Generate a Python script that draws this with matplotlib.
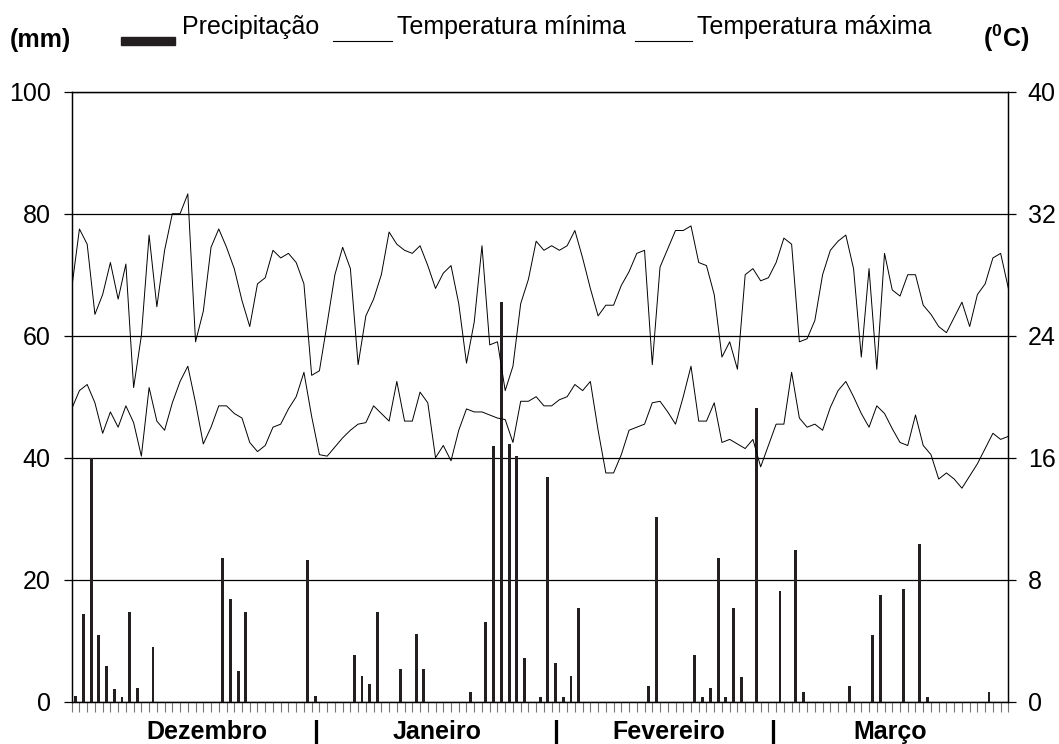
import matplotlib
matplotlib.use('Agg')
import matplotlib.pyplot as plt
import numpy as np
from matplotlib.patches import Rectangle
from matplotlib.lines import Line2D

# precipitacao diaria (mm), dez -> mar
chuva_dez = [1.0, 14.3, 40.0, 10.9, 5.8, 2.0, 0.7, 14.7, 2.3, 0, 9.0, 0, 0, 0, 0, 0,
             0, 0, 0, 23.5, 16.8, 5.1, 14.7, 0, 0, 0, 0, 0, 0, 0, 23.2]
chuva_jan = [1.0, 0, 0, 0, 0, 7.7, 4.2, 2.9, 14.7, 0, 0, 5.4, 0, 11.1, 5.4, 0,
             0, 0, 0, 0, 1.6, 0, 13.0, 41.9, 65.6, 42.2, 40.3, 7.1, 0, 0.7, 36.8]
chuva_fev = [6.4, 0.7, 4.2, 15.3, 0, 0, 0, 0, 0, 0, 0, 0, 2.6, 30.2, 0, 0,
             0, 0, 7.7, 0.7, 2.3, 23.5, 0.7, 15.3, 4.1, 0, 48.2, 0]
chuva_mar = [0, 18.2, 0, 24.8, 1.6, 0, 0, 0, 0, 0, 2.6, 0, 0, 11.0, 17.5, 0,
             0, 18.5, 0, 25.8, 0.7, 0, 0, 0, 0, 0, 0, 0, 1.6, 0, 0]

# temperaturas (graus C)
tmax = [27.1, 31.0, 30.0, 25.4, 26.7, 28.8, 26.4, 28.7, 20.6, 24.0, 30.6, 25.9,
        29.6, 32.0, 32.0, 33.3, 23.6, 25.6, 29.8, 31.0, 29.8, 28.4, 26.3, 24.6,
        27.4, 27.8, 29.6, 29.1, 29.4, 28.8, 27.4, 21.4, 21.7, 24.8, 28.0, 29.8,
        28.4, 22.1, 25.3, 26.4, 28.0, 30.8, 30.0, 29.6, 29.4, 29.9, 28.6, 27.1,
        28.1, 28.6, 26.1, 22.2, 24.9, 29.9, 23.4, 23.6, 20.4, 22.0, 26.1, 27.7,
        30.2, 29.6, 29.9, 29.6, 29.9, 30.9, 29.1, 27.1, 25.3, 26.0, 26.0, 27.3,
        28.2, 29.4, 29.6, 22.1, 28.5, 29.7, 30.9, 30.9, 31.2, 28.8, 28.6, 26.7,
        22.6, 23.6, 21.8, 28.0, 28.4, 27.6, 27.8, 28.8, 30.4, 30.0, 23.6, 23.8,
        25.0, 28.0, 29.6, 30.2, 30.6, 28.4, 22.6, 28.4, 21.8, 29.4, 27.0, 26.6,
        28.0, 28.0, 26.0, 25.4, 24.6, 24.2, 25.2, 26.2, 24.6, 26.7, 27.4, 29.1,
        29.4, 27.1]
tmin = [19.2, 20.4, 20.8, 19.6, 17.6, 19.0, 18.0, 19.4, 18.3, 16.1, 20.6, 18.4,
        17.8, 19.6, 21.0, 22.0, 19.6, 16.9, 18.0, 19.4, 19.4, 18.9, 18.6, 17.0,
        16.4, 16.8, 18.0, 18.2, 19.2, 20.0, 21.6, 18.7, 16.2, 16.1, 16.7, 17.3,
        17.8, 18.2, 18.3, 19.4, 18.9, 18.4, 21.0, 18.4, 18.4, 20.3, 19.6, 16.0,
        16.8, 15.8, 17.8, 19.2, 19.0, 19.0, 18.8, 18.6, 18.5, 17.0, 19.7, 19.7,
        20.0, 19.4, 19.4, 19.8, 20.0, 20.8, 20.4, 21.0, 17.8, 15.0, 15.0, 16.2,
        17.8, 18.0, 18.2, 19.6, 19.7, 19.0, 18.2, 20.0, 22.0, 18.4, 18.4, 19.6,
        17.0, 17.2, 16.9, 16.6, 17.2, 15.4, 16.8, 18.2, 18.2, 21.6, 18.6, 18.0,
        18.2, 17.8, 19.3, 20.4, 21.0, 20.0, 18.9, 18.0, 19.4, 18.9, 17.9, 17.0,
        16.8, 18.8, 16.8, 16.2, 14.6, 15.0, 14.6, 14.0, 14.8, 15.6, 16.6, 17.6,
        17.2, 17.4]

meses = ['Dezembro', '|', 'Janeiro', '|', 'Fevereiro', '|', 'Março']
meses_pos = [17, 31, 46.7, 62, 76.6, 90, 105.2]

chuva = chuva_dez + chuva_jan + chuva_fev + chuva_mar

plt.rcParams['font.family'] = ['Liberation Sans', 'DejaVu Sans']
plt.rcParams['mathtext.fontset'] = 'custom'
plt.rcParams['mathtext.rm'] = 'Liberation Sans'
plt.rcParams['mathtext.bf'] = 'Liberation Sans:bold'

fig = plt.figure(figsize=(10.59, 7.44), dpi=100)
ax = fig.add_axes([0.0677, 0.0569, 0.8845, 0.8198])

dias = np.arange(len(chuva))
ax.bar(dias, chuva, width=0.38, color='#231f20', zorder=3)
ax.set_xlim(-0.5, len(chuva) - 0.5)
ax.set_ylim(0, 100)
ax.set_yticks(range(0, 101, 20))
ax.grid(axis='y', color='black', lw=0.9)
ax.set_axisbelow(True)
for s in ax.spines.values():
    s.set_color('black')
    s.set_linewidth(0.9)

ax.set_xticks(meses_pos)
ax.set_xticklabels(meses, fontweight='bold', fontsize=18)
ax.set_xticks(np.arange(-0.5, len(chuva), 1), minor=True)
ax.tick_params(axis='x', which='major', length=0, pad=13)
ax.tick_params(axis='x', which='minor', length=7, width=0.8, color='#777777')
ax.tick_params(axis='y', length=6, width=0.9, pad=9, labelsize=18)

ax2 = ax.twinx()
ax2.set_ylim(0, 40)
ax2.set_yticks(range(0, 41, 8))
ax2.tick_params(axis='y', length=6, width=0.9, pad=8, labelsize=18)
for s in ax2.spines.values():
    s.set_color('black')
    s.set_linewidth(0.9)

tx = np.linspace(-0.5, len(chuva) - 0.5, len(tmax))
ax2.plot(tx, tmin, color='black', lw=0.7)
ax2.plot(tx, tmax, color='black', lw=0.7)

# cabecalho / legenda
W, H = 1059, 744
fig.text(10 / W, 1 - 47 / H, '(mm)', fontsize=18, fontweight='bold', va='baseline')
fig.text(983 / W, 1 - 47 / H, r'($\mathbf{^{0}}$C)', fontsize=18, fontweight='bold',
         va='baseline')
fig.patches.append(Rectangle((121 / W, 1 - 45 / H), 54 / W, 8 / H,
                             transform=fig.transFigure, color='#231f20'))
fig.text(182 / W, 1 - 34 / H, 'Precipitação', fontsize=18, va='baseline')
fig.lines.append(Line2D([333 / W, 392 / W], [1 - 41 / H, 1 - 41 / H],
                        transform=fig.transFigure, color='black', lw=0.8))
fig.text(397 / W, 1 - 34 / H, 'Temperatura mínima', fontsize=18, va='baseline')
fig.lines.append(Line2D([635 / W, 692 / W], [1 - 41 / H, 1 - 41 / H],
                        transform=fig.transFigure, color='black', lw=0.8))
fig.text(697 / W, 1 - 34 / H, 'Temperatura máxima', fontsize=18, va='baseline')

fig.savefig('out.png', dpi=100)
